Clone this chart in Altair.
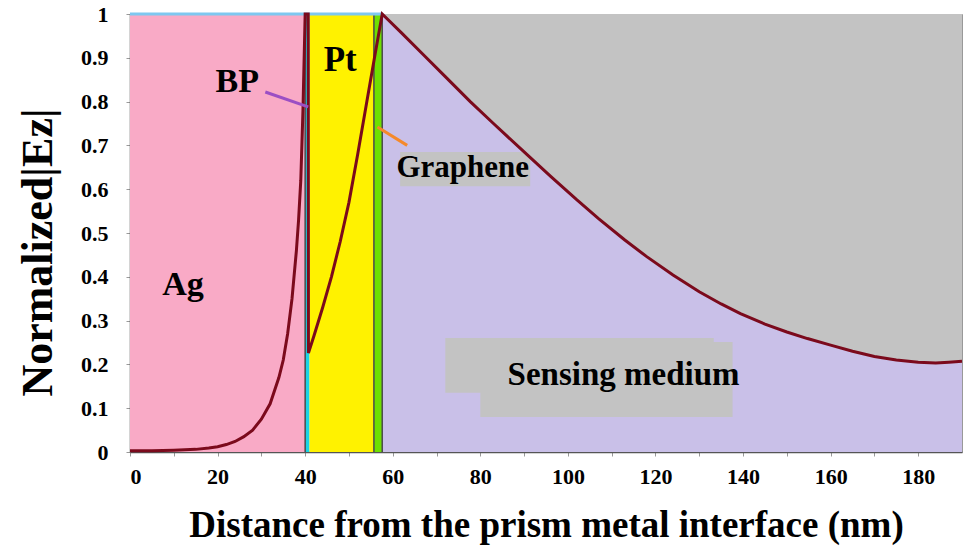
import altair as alt
import pandas as pd

# ---- data ----
layer_names = ["Ag", "BP", "Pt", "Graphene", "Sensing medium"]
layer_start = [0, 40.0, 41.0, 55.7, 57.6]
layer_end = [40.0, 41.0, 55.7, 57.6, 190]
layer_colors = ["#f9aac6", "#19d3e6", "#fff200", "#6ee000", "#c9c0e8"]

curve_x = [0, 5, 10, 15, 18, 20, 22, 24, 26, 28, 30, 32, 34, 35, 36, 37, 38, 38.5, 39, 39.5, 40,
           40.7, 40.75, 42, 44, 46, 48, 50, 52, 54, 56, 57.6,
           62, 67, 72, 77.7, 83, 90, 96, 102, 107, 113, 118, 124, 130, 135, 139.4, 145, 150,
           154.7, 160, 165, 170, 175, 180, 184, 187, 190]
curve_y = [0.003, 0.003, 0.004, 0.006, 0.009, 0.012, 0.017, 0.024, 0.035, 0.05, 0.075, 0.11, 0.17, 0.21,
           0.27, 0.35, 0.46, 0.53, 0.62, 0.78, 1.0,
           1.0, 0.226, 0.265, 0.33, 0.40, 0.48, 0.57, 0.68, 0.795, 0.91, 1.0,
           0.957, 0.907, 0.857, 0.80, 0.75, 0.685, 0.63, 0.576, 0.533, 0.484, 0.446, 0.404, 0.366,
           0.338, 0.316, 0.292, 0.274, 0.259, 0.244, 0.230, 0.218, 0.210, 0.205, 0.203, 0.205, 0.207]

boundaries = [40.0, 55.7, 57.6]

x_ticks = list(range(0, 190, 10))
y_ticks = [0, 0.1, 0.2, 0.3, 0.4, 0.5, 0.6, 0.7, 0.8, 0.9, 1.0]

label_text = ["Ag", "BP", "Pt", "Graphene", "Sensing medium"]
label_x = [12.1, 24.5, 48.0, 76.0, 112.7]
label_y = [0.381, 0.845, 0.895, 0.648, 0.176]
label_size = [34, 34, 35, 31, 33]

box_x = [72, 80, 61.7]
box_x2 = [133.3, 137.6, 91.4]
box_y = [0.26, 0.251, 0.685]
box_y2 = [0.135, 0.08, 0.607]

lead_x = [30.9, 56.5]
lead_y = [0.822, 0.742]
lead_x2 = [40.7, 63.3]
lead_y2 = [0.788, 0.70]
lead_color = ["#9b4fc4", "#f5892a"]

# ---- tables ----
layers = pd.DataFrame({"name": layer_names, "x0": layer_start, "x1": layer_end, "color": layer_colors})
curve = pd.DataFrame({"x": curve_x, "y": curve_y, "i": range(len(curve_x))})
sx = [v for v in curve_x if v >= 57.6]
sy = curve_y[len(curve_x) - len(sx):]
sens = pd.DataFrame({"sx": sx, "sy": sy, "top": [1.0] * len(sx)})
bounds = pd.DataFrame({"x": boundaries})
labels = pd.DataFrame({"t": label_text, "x": label_x, "y": label_y, "s": label_size})
boxes = pd.DataFrame({"x": box_x, "x2": box_x2, "y": box_y, "y2": box_y2})
leads = pd.DataFrame({"x": lead_x, "y": lead_y, "x2": lead_x2, "y2": lead_y2, "c": lead_color})

FONT = "Liberation Serif"
xs = alt.Scale(domain=[0, 190], nice=False, zero=False)
ys = alt.Scale(domain=[0, 1], nice=False)

xaxis = alt.Axis(values=x_ticks, labelExpr="datum.value % 20 == 0 ? datum.label : ''",
                 title="Distance from the prism metal interface (nm)", grid=False,
                 labelFont=FONT, labelFontSize=22, labelFontWeight="bold", labelColor="black",
                 labelPadding=10, tickSize=4, tickColor="#999", domainColor="#555", domainWidth=1.5,
                 titleFont=FONT, titleFontSize=37, titleFontWeight="bold", titleColor="black",
                 titlePadding=20)
yaxis = alt.Axis(values=y_ticks, labelExpr="toString(round(datum.value*10)/10)",
                 title="Normalized|Ez|", grid=False,
                 labelFont=FONT, labelFontSize=22, labelFontWeight="bold", labelColor="black",
                 labelPadding=18, tickSize=4, tickColor="#999", domainColor="#555", domainWidth=1.5,
                 titleFont=FONT, titleFontSize=44, titleFontWeight="bold", titleColor="black",
                 titlePadding=20, titleY=238)

rects = alt.Chart(layers).mark_rect().encode(
    x=alt.X("x0:Q", scale=xs, axis=xaxis), x2="x1:Q",
    y=alt.Y(datum=0, scale=ys, axis=yaxis), y2=alt.datum(1),
    color=alt.Color("name:N", scale=alt.Scale(domain=layer_names, range=layer_colors), legend=None),
)

grey = alt.Chart(sens).mark_area(color="#c3c3c3", opacity=1, fill="#c3c3c3").encode(
    x=alt.X("sx:Q", scale=xs), y=alt.Y("top:Q", scale=ys), y2="sy:Q"
)

brules = alt.Chart(bounds).mark_rule(color="#4a4a4a", strokeWidth=1.5).encode(
    x=alt.X("x:Q", scale=xs)
)

topline = alt.Chart(pd.DataFrame({"a": [0], "b": [57.6], "y": [1]})).mark_rule(
    color="#7ec8f0", strokeWidth=3).encode(x=alt.X("a:Q", scale=xs), x2="b:Q", y=alt.Y("y:Q", scale=ys))

boxl = alt.Chart(boxes).mark_rect(color="#c3c3c3").encode(
    x=alt.X("x:Q", scale=xs), x2="x2:Q", y=alt.Y("y:Q", scale=ys), y2="y2:Q"
)

line = alt.Chart(curve).mark_line(color="#7b0a1c", strokeWidth=3).encode(
    x=alt.X("x:Q", scale=xs), y=alt.Y("y:Q", scale=ys), order="i:Q"
)

leadl = alt.Chart(leads).mark_rule(strokeWidth=3).encode(
    x=alt.X("x:Q", scale=xs), y=alt.Y("y:Q", scale=ys), x2="x2:Q", y2="y2:Q",
    color=alt.Color("c:N", scale=None)
)

texts = alt.Chart(labels).mark_text(font=FONT, fontWeight="bold", color="black").encode(
    x=alt.X("x:Q", scale=xs), y=alt.Y("y:Q", scale=ys), text="t:N",
    size=alt.Size("s:Q", scale=None, legend=None)
)

chart = alt.layer(rects, grey, brules, topline, boxl, line, leadl, texts).properties(
    width=832, height=438,
    padding={"left": 130, "top": 14, "right": 2, "bottom": 97},
    autosize="none",
    background="white",
).configure_view(stroke="#999", strokeWidth=1)

chart.save("out.html", embed_options={"renderer": "svg", "actions": False})
